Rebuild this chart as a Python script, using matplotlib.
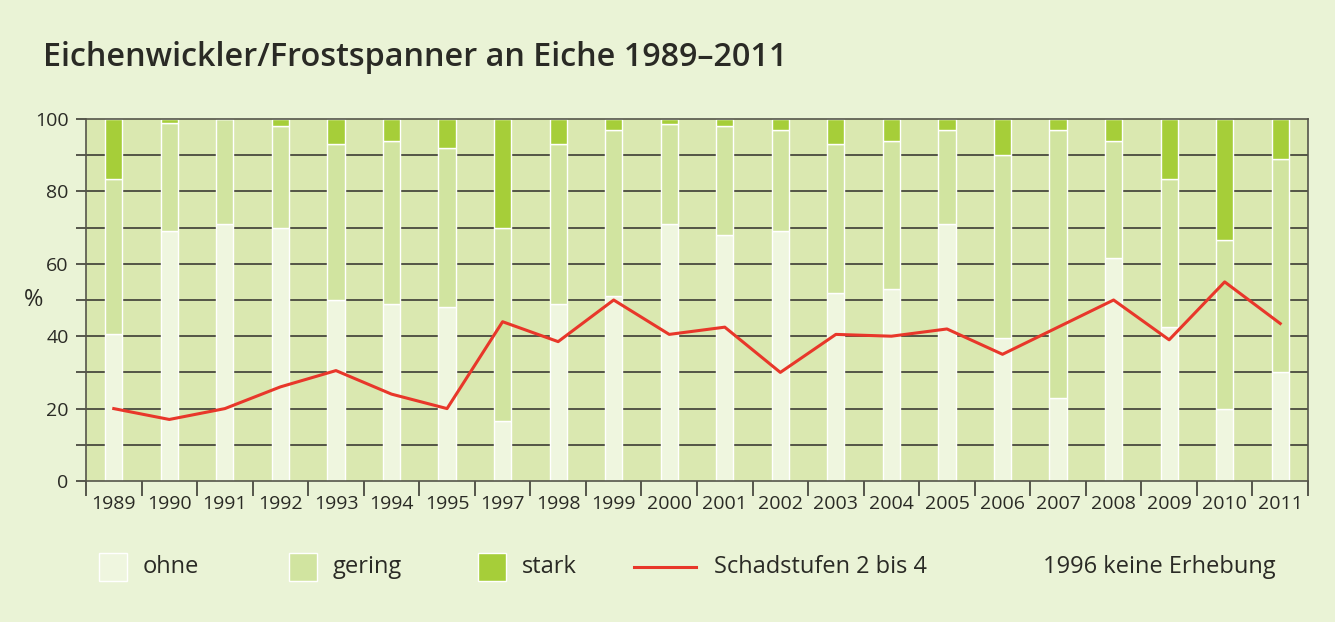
import matplotlib
matplotlib.use("Agg")
import matplotlib.pyplot as plt
from matplotlib.patches import Rectangle
from matplotlib.lines import Line2D
import numpy as np

plt.rcParams['font.family'] = ['Open Sans', 'DejaVu Sans']

years = ["1989", "1990", "1991", "1992", "1993", "1994", "1995", "1997", "1998", "1999", "2000",
         "2001", "2002", "2003", "2004", "2005", "2006", "2007", "2008", "2009", "2010", "2011"]
ohne = [40.5, 69, 71, 70, 50, 49, 48, 16.5, 49, 51, 71, 68, 69, 52, 53, 71, 39.5, 23, 61.5, 42.5, 20, 30]
gering = [43, 30, 29, 28, 43, 45, 44, 53.5, 44, 46, 27.5, 30, 28, 41, 41, 26, 50.5, 74, 32.5, 41, 46.5, 59]
stark = [16.5, 1, 0, 2, 7, 6, 8, 30, 7, 3, 1.5, 2, 3, 7, 6, 3, 10, 3, 6, 16.5, 33.5, 11]
schadstufen = [20, 17, 20, 26, 30.5, 24, 20, 44, 38.5, 50, 40.5, 42.5, 30, 40.5, 40, 42, 35, 42.5, 50, 39, 55, 43.5]

bg = "#eaf3d6"
plot_bg = "#dae8b0"
c_ohne = "#eff6df"
c_gering = "#d1e4a0"
c_stark = "#a6ce39"
c_red = "#e8372a"
c_text = "#2a2a25"
c_grid = "#3c3c34"

fig = plt.figure(figsize=(13.35, 6.22), dpi=100, facecolor=bg)
ax = fig.add_axes([86/1335, 1-481/622, 1222/1335, 362/622])
ax.set_facecolor(plot_bg)

x = np.arange(len(years))
w = 0.31
for yv in range(10, 100, 10):
    ax.axhline(yv, color=c_grid, lw=1.2, zorder=1)
ax.bar(x, ohne, w, color=c_ohne, edgecolor="white", lw=1, zorder=2)
ax.bar(x, gering, w, bottom=ohne, color=c_gering, edgecolor="white", lw=1, zorder=2)
ax.bar(x, stark, w, bottom=np.add(ohne, gering), color=c_stark, edgecolor="white", lw=1, zorder=2)
ax.plot(x, schadstufen, color=c_red, lw=2.2, zorder=3)

ax.set_xlim(-0.5, len(years) - 0.5)
ax.set_ylim(0, 100)
ax.set_xticks(x)
ax.set_xticklabels(years, fontsize=14, color=c_text)
ax.set_xticks(np.arange(len(years) + 1) - 0.5, minor=True)
ax.tick_params(axis="x", which="major", length=0, pad=10)
ax.tick_params(axis="x", which="minor", length=11, width=1.2, color=c_grid)
ax.set_yticks(range(0, 101, 20))
ax.set_yticklabels([str(v) for v in range(0, 101, 20)], fontsize=14, color=c_text)
ax.set_yticks(range(10, 100, 20), minor=True)
ax.tick_params(axis="y", which="both", length=7.5, width=1.2, color=c_grid, pad=5)
for s in ax.spines.values():
    s.set_color("#55554a")
    s.set_linewidth(1.2)
ax.set_ylabel("%", rotation=0, fontsize=17, color=c_text, va="center")
ax.yaxis.set_label_coords(-0.043, 0.5)

fig.text(43/1335, 1-58/622, "Eichenwickler/Frostspanner an Eiche 1989\u20132011",
         fontsize=23.3, fontweight="semibold", color=c_text, va="center", ha="left")

# legend
ly = 1 - 567/622
sq_w, sq_h = 28/1335, 28/622
for x0, col, lab in [(99, c_ohne, "ohne"), (289, c_gering, "gering"), (478, c_stark, "stark")]:
    fig.patches.append(Rectangle((x0/1335, ly - sq_h/2), sq_w, sq_h, transform=fig.transFigure,
                                 facecolor=col, edgecolor="white", lw=1))
    fig.text((x0 + 44)/1335, ly, lab, fontsize=17, color=c_text, va="center", ha="left")
fig.lines.append(Line2D([634/1335, 696/1335], [ly, ly], transform=fig.transFigure, color=c_red, lw=2.2))
fig.text(714/1335, ly, "Schadstufen 2 bis 4", fontsize=17, color=c_text, va="center", ha="left")
fig.text(1276/1335, ly, "1996 keine Erhebung", fontsize=17, color=c_text, va="center", ha="right")

fig.savefig("out.png", dpi=100, facecolor=bg)
